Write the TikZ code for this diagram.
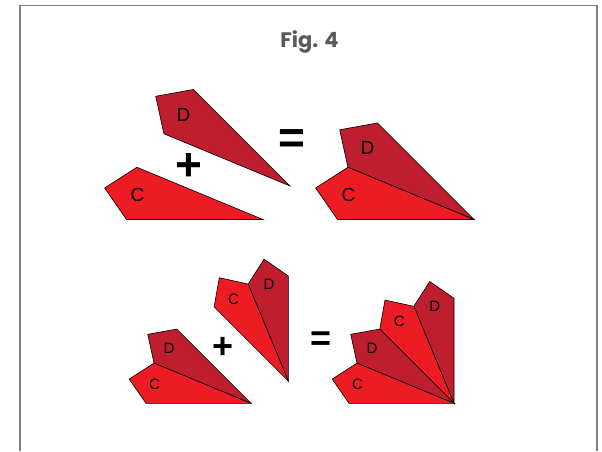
\documentclass[tikz,border=0pt]{standalone}
\usepackage{fontspec}
\setmainfont{Liberation Sans}
\newfontfamily\titlefont{Poppins}
\usetikzlibrary{positioning}
\definecolor{FrameGray}{RGB}{128,128,128}
\definecolor{TitleGray}{RGB}{90,90,90}
\definecolor{PieceRed}{RGB}{237,28,36}
\definecolor{PieceDark}{RGB}{190,30,45}
\tikzset{
  frameline/.style={draw=FrameGray,line width=1.5pt},
  piece/.style={draw=black,line width=0.6pt},
  letter/.style={font=\fontsize{19}{19}\selectfont,inner sep=0pt},
  smallletter/.style={font=\fontsize{15}{15}\selectfont,inner sep=0pt},
  sign/.style={font=\fontsize{46}{46}\selectfont\bfseries,inner sep=0pt},
  smallsign/.style={font=\fontsize{36}{36}\selectfont\bfseries,inner sep=0pt},
  pics/kite/.style n args={3}{code={
    \draw[piece,fill=#1] (0,0) -- (0:136.5) -- (11.25:161.5) -- (22.5:136.5) -- cycle;
    \node[#3] (-lbl) at (11.25:128) {#2};
  }}
}

\begin{document}
\begin{tikzpicture}[x=1pt,y=1pt]
  \useasboundingbox (0,0) rectangle (602,451);
  \draw[frameline] (20,0) -- (20,445.5) -- (597,445.5) -- (597,0);
  \node[font=\titlefont\fontsize{21}{21}\selectfont\bfseries,text=TitleGray,anchor=base] (title) at (309.5,403.7) {Fig. 4};

  % top row: two pieces, then joined
  \pic[rotate=135] (dOne) at (290,265) {kite={PieceDark}{D}{letter}};
  \pic[rotate=157.5] (cOne) at (263,231.5) {kite={PieceRed}{C}{letter}};
  \node[sign] (plusTop) at (189,283.7) {+};
  \node[sign] (eqTop) at (291.7,309.3) {=};
  \pic[rotate=135] (dTwo) at (474,231.5) {kite={PieceDark}{D}{letter}};
  \pic[rotate=157.5] (cTwo) at (474,231.5) {kite={PieceRed}{C}{letter}};

  % bottom row: two pairs, then the fan
  \pic[scale=0.769,rotate=135] (dThree) at (251,47.7) {kite={PieceDark}{D}{smallletter}};
  \pic[scale=0.769,rotate=157.5] (cThree) at (251,47.7) {kite={PieceRed}{C}{smallletter}};
  \pic[scale=0.769,rotate=90] (dFour) at (288.3,70) {kite={PieceDark}{D}{smallletter}};
  \pic[scale=0.769,rotate=112.5] (cFour) at (288.3,70) {kite={PieceRed}{C}{smallletter}};
  \node[smallsign] (plusBot) at (223.3,102.7) {+};
  \node[smallsign] (eqBot) at (320.7,110.3) {=};
  \pic[scale=0.769,rotate=90] (dFan) at (454,47.7) {kite={PieceDark}{D}{smallletter}};
  \pic[scale=0.769,rotate=112.5] (cFan) at (454,47.7) {kite={PieceRed}{C}{smallletter}};
  \pic[scale=0.769,rotate=135] (dFanB) at (454,47.7) {kite={PieceDark}{D}{smallletter}};
  \pic[scale=0.769,rotate=157.5] (cFanB) at (454,47.7) {kite={PieceRed}{C}{smallletter}};
\end{tikzpicture}
\end{document}
